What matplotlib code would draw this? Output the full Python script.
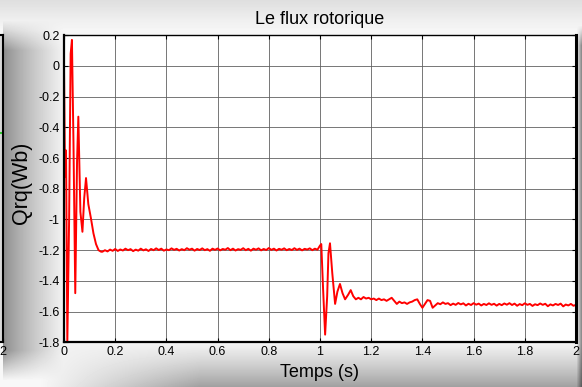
import matplotlib
matplotlib.use("Agg")
import matplotlib.pyplot as plt
import numpy as np

plt.rcParams['font.family'] = ['Liberation Sans', 'DejaVu Sans']

# start-up transient (t in s, flux in Wb)
start_t = [0.0, 0.004, 0.008, 0.013, 0.02, 0.026, 0.031, 0.037, 0.044, 0.051,
           0.056, 0.064, 0.072, 0.079, 0.086, 0.095, 0.105, 0.115, 0.125,
           0.135, 0.145]
start_q = [0.0, -0.72, -0.55, -1.8, -1.0, 0.08, 0.17, -0.5, -1.48, -0.62,
           -0.33, -0.95, -1.08, -0.86, -0.73, -0.9, -0.99, -1.09, -1.16,
           -1.2, -1.21]

# first steady state, 0.15 s .. 1.00 s every 10 ms
steady1_q = [-1.21, -1.2, -1.208, -1.196, -1.204, -1.192, -1.205, -1.195, -1.202, -1.19,
             -1.2, -1.193, -1.206, -1.196, -1.203, -1.19, -1.201, -1.194, -1.205, -1.192,
             -1.2, -1.188, -1.199, -1.19, -1.203, -1.195, -1.2, -1.188, -1.198, -1.191,
             -1.202, -1.193, -1.2, -1.187, -1.197, -1.19, -1.203, -1.192, -1.199, -1.188,
             -1.2, -1.193, -1.204, -1.19, -1.198, -1.189, -1.201, -1.192, -1.197, -1.186,
             -1.2, -1.19, -1.202, -1.193, -1.198, -1.187, -1.2, -1.191, -1.203, -1.19,
             -1.197, -1.188, -1.201, -1.192, -1.199, -1.186, -1.198, -1.19, -1.202, -1.191,
             -1.197, -1.188, -1.2, -1.192, -1.199, -1.187, -1.198, -1.19, -1.201, -1.191,
             -1.196, -1.188, -1.2, -1.19, -1.197, -1.17]

# load step transient
step_t = [1.005, 1.012, 1.02, 1.028, 1.033, 1.039, 1.048, 1.059, 1.068, 1.078,
          1.088, 1.098, 1.11, 1.12, 1.13, 1.14]
step_q = [-1.16, -1.45, -1.75, -1.5, -1.22, -1.155, -1.35, -1.55, -1.47, -1.42,
          -1.48, -1.52, -1.49, -1.46, -1.5, -1.52]

# second steady state, 1.15 s .. 2.00 s every 10 ms
steady2_q = [-1.51, -1.52, -1.505, -1.515, -1.51, -1.52, -1.515, -1.525, -1.515, -1.525,
             -1.52, -1.53, -1.52, -1.51, -1.53, -1.55, -1.535, -1.545, -1.54, -1.55,
             -1.54, -1.535, -1.525, -1.52, -1.55, -1.575, -1.55, -1.525, -1.53, -1.575,
             -1.56, -1.545, -1.552, -1.54, -1.55, -1.545, -1.558, -1.548, -1.556, -1.544,
             -1.553, -1.546, -1.56, -1.549, -1.557, -1.545, -1.555, -1.548, -1.56, -1.55,
             -1.557, -1.546, -1.556, -1.549, -1.561, -1.55, -1.558, -1.547, -1.555, -1.545,
             -1.557, -1.548, -1.562, -1.551, -1.558, -1.546, -1.556, -1.55, -1.563, -1.552,
             -1.558, -1.547, -1.556, -1.549, -1.565, -1.553, -1.56, -1.55, -1.557, -1.548,
             -1.566, -1.554, -1.56, -1.55, -1.562, -1.556]

x_ticks = [0, 0.2, 0.4, 0.6, 0.8, 1, 1.2, 1.4, 1.6, 1.8, 2]
y_ticks = [-1.8, -1.6, -1.4, -1.2, -1, -0.8, -0.6, -0.4, -0.2, 0, 0.2]

steady1_t = np.round(np.arange(len(steady1_q)) * 0.01 + 0.15, 3)
steady2_t = np.round(np.arange(len(steady2_q)) * 0.01 + 1.15, 3)
t = np.concatenate([start_t, steady1_t, step_t, steady2_t])
q = np.concatenate([start_q, steady1_q, step_q, steady2_q])

W, H = 582, 387
fig = plt.figure(figsize=(W / 100, H / 100), dpi=100)

# window shadow backdrop
xx, yy = np.meshgrid(np.arange(W), np.arange(H))
bg = np.full((H, W), 0.97)
left = np.clip((xx - 3) / 60.0, 0, 1) ** 0.8
left_fade = np.clip((yy - 20) / 30.0, 0, 1) * np.clip((380 - yy) / 30.0, 0, 1)
bg *= 1 - (1 - (0.56 + 0.42 * left)) * left_fade * (xx >= 3)
bottom = np.clip((yy - 342) / 45.0, 0, 1) ** 1.2
bg *= 1 - 0.36 * bottom * np.clip((xx - 40) / 160.0, 0, 1)
top = np.clip(1 - yy / 30.0, 0, 1)
bg *= 1 - 0.1 * top
right = np.clip((xx - 576) / 6.0, 0, 1)
bg *= 1 - 0.5 * right * np.clip((yy - 25) / 20.0, 0, 1)
bg_ax = fig.add_axes([0, 0, 1, 1], zorder=-5)
bg_ax.imshow(bg, cmap='gray', vmin=0, vmax=1, aspect='auto',
             extent=[0, W, H, 0], interpolation='bilinear')
bg_ax.axis('off')

ax_l, ax_r = 64 / W, 576 / W
ax_b, ax_t = 1 - 342.3 / H, 1 - 35.3 / H

# neighbouring window edge
prev = fig.add_axes([-0.4, ax_b, 0.4 + 3 / W, ax_t - ax_b], zorder=-4)
prev.set_facecolor('#d8d8d8')
prev.set_xlim(0, 2)
prev.set_ylim(0, 6)
prev.set_xticks([2])
prev.set_xticklabels(['2'], fontsize=9)
prev.set_yticks([0, 1, 2, 3, 4, 5, 6])
prev.set_yticklabels([])
prev.tick_params(direction='in', length=3, width=0.8, pad=3)
prev.plot([1.98, 2.0], [4.1, 4.1], color='#33cc33', lw=1.5)
for s in prev.spines.values():
    s.set_linewidth(1.5)

ax = fig.add_axes([ax_l, ax_b, ax_r - ax_l, ax_t - ax_b])
ax.set_facecolor('white')
ax.plot(t, q, color='red', lw=1.4)
ax.set_xlim(0, 2)
ax.set_ylim(-1.8, 0.2)
ax.set_xticks(x_ticks)
ax.set_xticklabels([f'{v:g}' for v in x_ticks], fontsize=9)
ax.set_yticks(y_ticks)
ax.set_yticklabels([f'{v:g}' for v in y_ticks], fontsize=9)
ax.tick_params(direction='in', length=3, width=0.8, top=True, right=True, pad=3)
ax.grid(True, color='#606060', linestyle='-', linewidth=0.6)
ax.spines['left'].set_linewidth(1.6)
ax.spines['bottom'].set_linewidth(1.6)
ax.spines['right'].set_linewidth(2.2)
ax.spines['top'].set_linewidth(1.0)
ax.set_title('Le flux rotorique', fontsize=13, pad=8)
ax.set_xlabel('Temps (s)', fontsize=13, labelpad=4)
ax.set_ylabel('Qrq(Wb)', fontsize=15.5)
ax.yaxis.set_label_coords(-(64 - 32) / 512, (342.3 - 182.5) / 307)

fig.savefig('out.png', dpi=100)
